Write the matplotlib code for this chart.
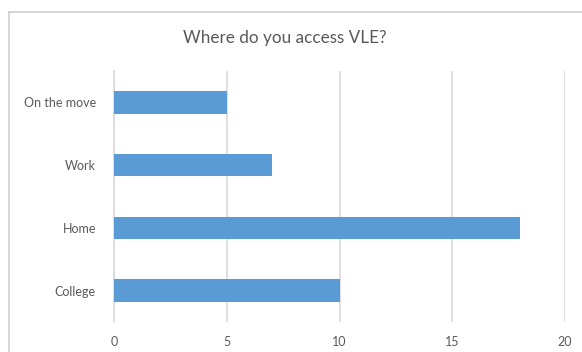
import matplotlib.pyplot as plt
from matplotlib.lines import Line2D

# survey answers, bottom to top as drawn
places = ["College", "Home", "Work", "On the move"]
counts = [10, 18, 7, 5]
xticks = [0, 5, 10, 15, 20]

plt.rcParams['font.family'] = ['Lato', 'DejaVu Sans']
txt = '#595959'
grid = '#D9D9D9'

fig = plt.figure(figsize=(5.82, 3.52), dpi=100)
ax = fig.add_axes([114/582, 30/352, 451/582, 251/352])

ax.barh(places, counts, height=0.355, color='#5B9BD5', zorder=3)
ax.set_xlim(0, 20)
ax.set_ylim(-0.5, 3.5)
ax.set_xticks(xticks)
ax.xaxis.grid(True, color=grid, linewidth=1.2, zorder=0)
for s in ['top', 'right', 'bottom']:
    ax.spines[s].set_visible(False)
ax.spines['left'].set_color(grid)
ax.spines['left'].set_linewidth(1.2)
ax.tick_params(axis='both', length=0, colors=txt, labelsize=9)
ax.tick_params(axis='x', pad=10)
ax.tick_params(axis='y', pad=13)

fig.text(285/582, 1 - 38/352, "Where do you access VLE?", ha='center', va='center',
         fontsize=12.3, color=txt)

# outer chart frame (cropped screenshot)
fig.add_artist(Line2D([9/582, 9/582], [0, 1 - 12/352], color='#D0D0D0', lw=1.2))
fig.add_artist(Line2D([9/582, 1], [1 - 12/352, 1 - 12/352], color='#D0D0D0', lw=1.2))

fig.savefig('out.png', dpi=100)
